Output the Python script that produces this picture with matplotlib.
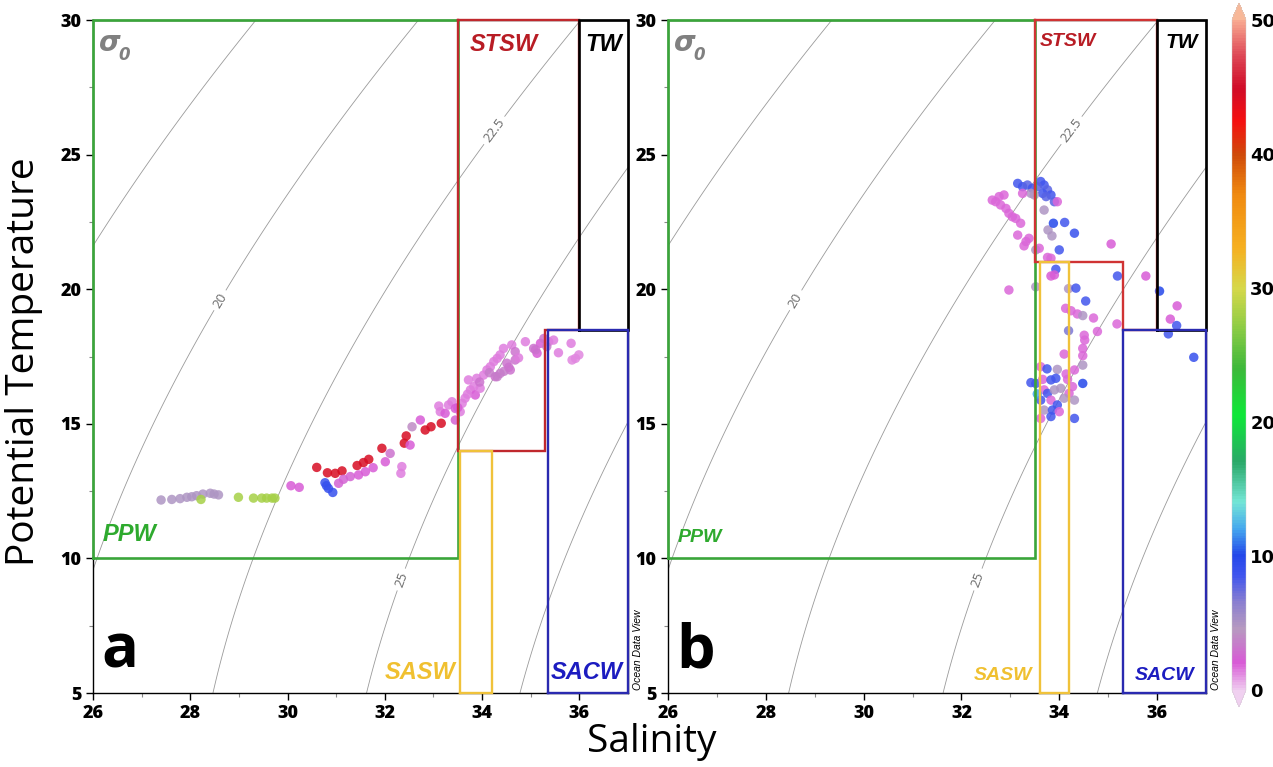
import numpy as np
import matplotlib
matplotlib.use("Agg")
import matplotlib.pyplot as plt
from matplotlib.colors import LinearSegmentedColormap, Normalize

# ---------------- data ----------------
# Panel a
sal_a = [27.40, 27.62, 27.79, 27.93, 28.03, 28.13, 28.26, 28.41, 28.49, 28.58,
         28.22, 28.99, 29.30, 29.47, 29.57, 29.68, 29.74,
         30.07, 30.24,
         30.77, 30.84, 30.93, 30.80,
         30.60, 30.82, 30.98, 31.12, 31.43, 31.56, 31.67, 31.94, 32.40, 32.44, 32.83, 32.95, 33.16,
         31.05, 31.15, 31.29, 31.46, 31.60, 31.76, 32.01, 32.11, 32.35, 32.33, 32.52, 32.56, 32.73,
         33.11, 33.14, 33.24, 33.31, 33.38, 33.45, 33.45, 33.55, 33.59, 33.65, 33.72, 33.76, 33.83,
         33.86, 33.89, 33.96, 34.03, 34.10, 34.17, 34.24, 34.31, 34.37, 34.44, 34.61, 34.89, 34.51,
         34.37, 34.27, 34.58, 34.68, 34.68, 35.06, 35.13, 35.20, 35.27, 35.37, 35.47, 35.57, 35.83,
         35.85, 35.99, 35.92, 35.33, 34.31, 34.45, 34.55, 34.75, 35.10, 33.70, 33.50, 33.95, 34.15]
temp_a = [12.17, 12.19, 12.22, 12.27, 12.29, 12.33, 12.39, 12.42, 12.39, 12.36,
          12.19, 12.27, 12.24, 12.24, 12.24, 12.24, 12.24,
          12.70, 12.64,
          12.81, 12.60, 12.45, 12.70,
          13.38, 13.18, 13.16, 13.25, 13.45, 13.56, 13.68, 14.09, 14.28, 14.55, 14.77, 14.89, 15.02,
          12.79, 12.94, 13.04, 13.10, 13.22, 13.37, 13.59, 13.90, 13.41, 13.16, 14.21, 14.89, 15.14,
          15.66, 15.45, 15.39, 15.70, 15.82, 15.57, 15.14, 15.45, 15.76, 15.95, 16.63, 16.26, 16.38,
          16.07, 16.69, 16.32, 16.81, 17.00, 17.12, 17.31, 17.43, 17.56, 17.80, 17.93, 18.05, 17.25,
          16.87, 16.75, 17.00, 17.37, 17.68, 17.80, 17.62, 17.99, 18.17, 18.05, 18.11, 17.64, 17.99,
          17.37, 17.56, 17.43, 17.87, 16.75, 16.95, 17.10, 17.45, 17.75, 16.10, 15.60, 16.55, 16.90]
val_a = [5.0, 5.0, 5.0, 5.0, 5.0, 5.0, 5.0, 5.0, 5.0, 5.0,
         28.0, 28.0, 28.0, 28.0, 28.0, 28.0, 28.0,
         2.0, 2.0,
         9.0, 9.0, 9.0, 9.0,
         44.5, 44.5, 44.5, 44.5, 44.5, 44.5, 44.5, 44.5, 44.5, 44.5, 44.5, 44.5, 44.5,
         2.5, 2.5, 2.5, 2.0, 2.0, 2.0, 2.0, 3.0, 1.5, 1.5, 2.0, 4.0, 2.0,
         1.5, 1.5, 2.0, 1.5, 1.5, 2.0, 2.5, 1.5, 1.5, 1.5, 1.5, 1.5, 1.5,
         2.0, 1.5, 1.5, 1.5, 1.5, 1.5, 1.5, 1.5, 1.5, 1.5, 1.5, 1.5, 3.0,
         3.5, 3.0, 3.0, 3.0, 3.0, 3.0, 2.0, 2.0, 3.0, 1.5, 1.5, 1.5, 1.5,
         1.2, 1.2, 1.2, 3.5, 3.5, 3.5, 3.0, 1.5, 3.0, 1.5, 2.0, 3.0, 3.5]

# Panel b
sal_b = [33.15, 33.25, 33.35, 33.45, 33.62, 33.69, 33.76, 33.83, 33.90, 33.66, 33.73, 33.55,
         33.42, 33.49, 33.69, 33.77, 33.85, 33.52,
         32.63, 32.70, 32.77, 32.87, 32.80, 32.91, 32.97, 33.04, 33.11, 33.21, 33.15, 33.32, 33.38,
         33.28, 33.59, 33.76, 33.83, 33.96, 33.25,
         33.88, 34.11, 34.31, 34.00, 33.93, 35.19,
         35.06, 35.77, 33.83, 33.90, 32.97,
         33.52, 34.19, 34.34, 34.54, 34.13, 34.24, 34.37, 34.48, 34.70, 34.78, 35.18, 34.19, 34.51,
         34.52, 34.48, 34.48, 34.10, 34.48,
         36.05, 36.41, 36.27, 36.40, 36.23, 36.75,
         33.62, 33.75, 33.96, 33.42, 33.52, 33.66, 33.83, 33.93, 34.14, 34.17, 34.31, 34.27, 33.69,
         33.76, 33.90, 34.03, 34.20, 34.10, 34.31, 33.62, 33.83, 33.96, 33.69, 33.86, 34.00, 33.62,
         33.83, 34.31, 33.55, 34.48]
temp_b = [23.93, 23.81, 23.87, 23.75, 24.00, 23.87, 23.69, 23.50, 23.25, 23.56, 23.44, 23.81,
          23.56, 23.50, 22.94, 22.20, 21.98, 21.46,
          23.31, 23.25, 23.44, 23.50, 23.13, 23.00, 22.82, 22.69, 22.63, 22.45, 22.01, 21.77, 21.89,
          21.61, 21.52, 21.18, 21.15, 23.25, 23.56,
          22.45, 22.48, 22.08, 21.46, 20.74, 20.49,
          21.68, 20.49, 20.49, 20.53, 19.97,
          20.09, 20.02, 20.04, 19.56, 19.29, 19.20, 19.08, 19.02, 18.93, 18.43, 18.71, 18.46, 18.29,
          18.11, 17.80, 17.53, 17.59, 17.18,
          19.93, 19.38, 18.89, 18.65, 18.34, 17.47,
          17.12, 17.04, 17.02, 16.53, 16.50, 16.65, 16.63, 16.69, 16.85, 16.65, 17.00, 16.38, 16.26,
          16.13, 16.26, 16.32, 16.13, 15.95, 15.88, 15.88, 15.88, 15.70, 15.51, 15.51, 15.45, 15.20,
          15.27, 15.20, 16.11, 16.50]
val_b = [8.5, 8.5, 8.0, 8.5, 8.5, 8.5, 8.0, 8.5, 8.0, 8.5, 8.0, 8.0,
         5.0, 5.0, 5.0, 5.0, 5.0, 5.0,
         1.8, 1.8, 1.8, 1.8, 1.8, 1.8, 1.8, 1.8, 1.8, 1.8, 1.8, 1.8, 1.8,
         1.8, 1.8, 1.8, 1.8, 1.8, 1.8,
         10.0, 8.5, 9.0, 8.5, 8.5, 8.5,
         2.0, 2.0, 2.0, 2.0, 1.8,
         5.0, 5.0, 8.5, 8.5, 1.8, 1.8, 1.8, 5.0, 1.8, 1.8, 1.8, 7.0, 1.8,
         1.8, 1.8, 1.8, 1.8, 5.0,
         10.0, 2.0, 2.0, 8.5, 8.5, 9.0,
         1.8, 8.5, 5.0, 8.5, 8.5, 1.8, 8.5, 8.5, 1.8, 1.8, 1.8, 1.8, 1.8,
         8.5, 5.0, 5.0, 1.8, 5.0, 5.0, 8.5, 1.8, 8.5, 5.0, 8.5, 1.8, 1.8,
         8.5, 8.5, 12.0, 10.0]

# Water-mass boxes (salinity, temperature vertices)
ppw_box = [(26.0, 10.0), (33.5, 10.0), (33.5, 30.0), (26.0, 30.0), (26.0, 10.0)]
tw_box = [(36.0, 18.5), (37.0, 18.5), (37.0, 30.0), (36.0, 30.0), (36.0, 18.5)]
stsw_box_a = [(33.5, 30.0), (33.5, 14.0), (35.3, 14.0), (35.3, 18.5), (36.0, 18.5), (36.0, 30.0), (33.5, 30.0)]
stsw_box_b = [(33.5, 30.0), (33.5, 21.0), (35.3, 21.0), (35.3, 18.5), (36.0, 18.5), (36.0, 30.0), (33.5, 30.0)]
sacw_box_a = [(35.35, 5.0), (37.0, 5.0), (37.0, 18.5), (35.35, 18.5), (35.35, 5.0)]
sacw_box_b = [(35.3, 5.0), (37.0, 5.0), (37.0, 18.5), (35.3, 18.5), (35.3, 5.0)]
sasw_box_a = [(33.55, 5.0), (34.2, 5.0), (34.2, 14.0), (33.55, 14.0), (33.55, 5.0)]
sasw_box_b = [(33.6, 5.0), (34.2, 5.0), (34.2, 21.0), (33.6, 21.0), (33.6, 5.0)]

sigma_plain = [15.0, 17.5, 27.5]
sigma_labelled = [20.0, 22.5, 25.0]
sigma_label_pos = [(28.6, 19.6), (34.25, 25.9), (32.36, 9.2)]

x_ticks = [26, 28, 30, 32, 34, 36]
y_ticks = [5, 10, 15, 20, 25, 30]
cbar_ticks = [0, 10, 20, 30, 40, 50]


def sigma0(S, T):
    rw = (999.842594 + 6.793952e-2 * T - 9.095290e-3 * T**2 + 1.001685e-4 * T**3
          - 1.120083e-6 * T**4 + 6.536332e-9 * T**5)
    A = 0.824493 - 4.0899e-3 * T + 7.6438e-5 * T**2 - 8.2467e-7 * T**3 + 5.3875e-9 * T**4
    B = -5.72466e-3 + 1.0227e-4 * T - 1.6546e-6 * T**2
    C = 4.8314e-4
    return rw + A * S + B * S**1.5 + C * S**2 - 1000.0


# ODV-like colormap
anchors = [
    (0, '#eec8ee'), (2, '#d85ad6'), (4.5, '#b79ac0'), (6.5, '#8a7fd0'), (8.5, '#3f55ee'),
    (10, '#2448ea'), (12, '#45a8ee'), (14, '#74e6d6'), (17, '#2aa868'), (20.5, '#0ee838'),
    (24, '#3db83a'), (27, '#8ccc45'), (30, '#d6d84a'), (33, '#f6b020'), (37, '#f08a10'),
    (40, '#cf4a0a'), (42.5, '#f51010'), (45, '#d00c28'), (47.5, '#de4a58'), (50, '#f8a890')]
cmap = LinearSegmentedColormap.from_list(
    'odv', [(v / 50.0, c) for v, c in anchors], N=256)
cmap.set_under('#f0d0f0')
cmap.set_over('#f8b898')
norm = Normalize(vmin=0, vmax=50)

plt.rcParams['font.family'] = ['Open Sans', 'DejaVu Sans']

fig = plt.figure(figsize=(12.73, 7.67), dpi=100)
W, H = 1273.0, 767.0
ax_a = fig.add_axes([93 / W, 1 - 693 / H, (628 - 93) / W, (693 - 20) / H])
ax_b = fig.add_axes([668 / W, 1 - 693 / H, (1206 - 668) / W, (693 - 20) / H])
cax = fig.add_axes([1232 / W, 1 - 707 / H, 14 / W, (707 - 3) / H])

Sg, Tg = np.meshgrid(np.linspace(26, 37, 300), np.linspace(5, 30, 300))
SIG = sigma0(Sg, Tg)


def draw_panel(ax, S, T, V, stsw, sacw, sasw, panel_letter, small):
    ax.contour(Sg, Tg, SIG, levels=sigma_plain, colors='#9a9a9a', linewidths=0.6, zorder=1)
    lab_cs = ax.contour(Sg, Tg, SIG, levels=sigma_labelled, colors='#9a9a9a', linewidths=0.6, zorder=1)
    ax.clabel(lab_cs, levels=sigma_labelled, manual=sigma_label_pos, inline=True, inline_spacing=4,
              fmt=lambda v: f'{v:g}', fontsize=9.5, colors='#6a6a6a')
    ax.scatter(S, T, c=V, cmap=cmap, norm=norm, s=46, alpha=0.85, edgecolors='none', zorder=3)

    def box(pts, color, lw=1.7):
        xs, ys = zip(*pts)
        ax.plot(xs, ys, color=color, lw=lw, clip_on=False, zorder=5, solid_joinstyle='miter')

    box(ppw_box, '#3aa53a', 1.9)
    box(stsw, '#c0282d' if not small else '#d03333')
    box(tw_box, 'black', 1.9)
    box(sacw, '#2a2ab0')
    box(sasw, '#f0c23a')

    ax.set_xlim(26, 37)
    ax.set_ylim(5, 30)
    ax.set_xticks(x_ticks)
    ax.set_xticks(np.arange(27, 37, 2), minor=True)
    ax.set_yticks(y_ticks)
    ax.set_yticks(np.arange(7.5, 30, 5), minor=True)
    ax.tick_params(which='major', direction='out', length=5, width=1)
    ax.tick_params(which='minor', direction='out', length=3, width=0.8, color='#888888')
    for lbl in ax.get_xticklabels() + ax.get_yticklabels():
        lbl.set_fontweight('heavy')
        lbl.set_fontsize(13)
    for sp in ax.spines.values():
        sp.set_linewidth(1.0)

    fs = 14 if small else 17
    wm = dict(fontweight='bold', fontstyle='italic', family='Liberation Sans')
    ax.text(0.012, 0.987, 'σ', transform=ax.transAxes, color='#808080', fontsize=20,
            ha='left', va='top', fontweight='bold', fontstyle='italic', family='DejaVu Sans')
    ax.text(0.048, 0.962, '0', transform=ax.transAxes, color='#808080', fontsize=12,
            ha='left', va='top', fontweight='bold', fontstyle='italic', family='DejaVu Sans')
    ax.text(26.2, 10.45, 'PPW', color='#2eaa2e', fontsize=fs, ha='left', va='bottom', **wm)
    ax.text(33.6 if small else 33.75, 29.5, 'STSW', color='#b81c24', fontsize=fs, ha='left', va='top', **wm)
    ax.text(36.5, 29.5, 'TW', color='black', fontsize=17 if not small else 15, ha='center', va='top', **wm)
    ax.text(33.45, 5.35, 'SASW', color='#f0c030', fontsize=fs, ha='right', va='bottom', **wm)
    ax.text(36.15, 5.35, 'SACW', color='#1c1cc0', fontsize=fs, ha='center', va='bottom', **wm)
    ax.text(0.015, 0.015, panel_letter, transform=ax.transAxes, fontsize=44,
            fontweight='bold', ha='left', va='bottom', family='Open Sans')
    ax.text(1.018, 0.005, 'Ocean Data View', transform=ax.transAxes, rotation=90,
            fontsize=7.5, fontstyle='italic', ha='center', va='bottom', family='Liberation Sans')


draw_panel(ax_a, sal_a, temp_a, val_a, stsw_box_a, sacw_box_a, sasw_box_a, 'a', False)
draw_panel(ax_b, sal_b, temp_b, val_b, stsw_box_b, sacw_box_b, sasw_box_b, 'b', True)

sm = plt.cm.ScalarMappable(norm=norm, cmap=cmap)
cb = fig.colorbar(sm, cax=cax, extend='both', extendfrac=0.025, ticks=cbar_ticks)
cb.outline.set_linewidth(0.3)
cb.outline.set_edgecolor('#cccccc')
cax.tick_params(length=0, pad=3)
for lbl in cax.get_yticklabels():
    lbl.set_fontweight('bold')
    lbl.set_fontsize(13)
    lbl.set_family('DejaVu Sans')

fig.text(24 / W, 1 - 362 / H, 'Potential Temperature', rotation=90, fontsize=28,
         ha='center', va='center', family='Open Sans')
fig.text(652 / W, 1 - 742 / H, 'Salinity', fontsize=28, ha='center', va='center', family='Open Sans')

fig.savefig('out.png', dpi=100)
